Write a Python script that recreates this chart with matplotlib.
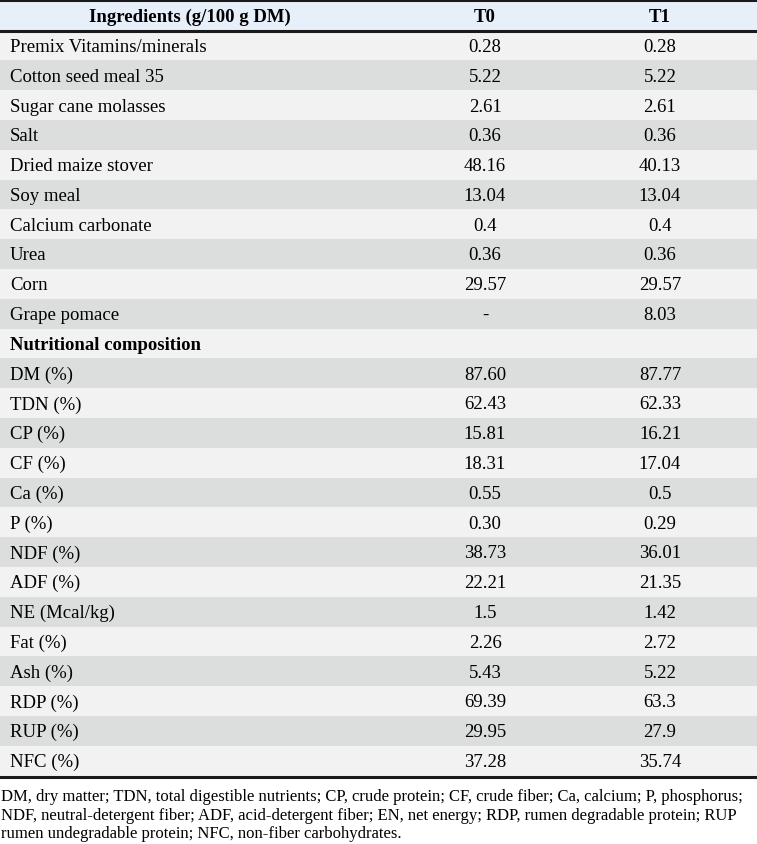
import matplotlib.pyplot as plt
from matplotlib.patches import Rectangle

plt.rcParams['font.family'] = ['Liberation Serif', 'DejaVu Serif']

# Table content
headers = ['Ingredients (g/100 g DM)', 'T0', 'T1']
row_labels = ['Premix Vitamins/minerals', 'Cotton seed meal 35', 'Sugar cane molasses',
              'Salt', 'Dried maize stover', 'Soy meal', 'Calcium carbonate', 'Urea',
              'Corn', 'Grape pomace', 'Nutritional composition',
              'DM (%)', 'TDN (%)', 'CP (%)', 'CF (%)', 'Ca (%)', 'P (%)', 'NDF (%)',
              'ADF (%)', 'NE (Mcal/kg)', 'Fat (%)', 'Ash (%)', 'RDP (%)', 'RUP (%)',
              'NFC (%)']
t0_values = ['0.28', '5.22', '2.61', '0.36', '48.16', '13.04', '0.4', '0.36', '29.57', '-', '',
             '87.60', '62.43', '15.81', '18.31', '0.55', '0.30', '38.73', '22.21', '1.5',
             '2.26', '5.43', '69.39', '29.95', '37.28']
t1_values = ['0.28', '5.22', '2.61', '0.36', '40.13', '13.04', '0.4', '0.36', '29.57', '8.03', '',
             '87.77', '62.33', '16.21', '17.04', '0.5', '0.29', '36.01', '21.35', '1.42',
             '2.72', '5.22', '63.3', '27.9', '35.74']
bold_rows = ['Nutritional composition']
footnote = ('DM, dry matter; TDN, total digestible nutrients; CP, crude protein; CF, crude fiber; Ca, calcium; P, phosphorus;\n'
            'NDF, neutral-detergent fiber; ADF, acid-detergent fiber; EN, net energy; RDP, rumen degradable protein; RUP\n'
            'rumen undegradable protein; NFC, non-fiber carbohydrates.')

W, H = 757, 845
fig = plt.figure(figsize=(W / 100, H / 100), dpi=100)
ax = fig.add_axes([0, 0, 1, 1])
ax.set_xlim(0, W)
ax.set_ylim(H, 0)
ax.axis('off')

top = 31.5
row_h = 29.8
col_x = [10, 485, 660]
fs = 13.5

# header
ax.add_patch(Rectangle((0, 1), W, top - 1, color='#e7f0fa', lw=0))
ax.text(190, 17, headers[0], ha='center', va='center', fontsize=fs, fontweight='bold')
ax.text(col_x[1], 17, headers[1], ha='center', va='center', fontsize=fs, fontweight='bold')
ax.text(col_x[2], 17, headers[2], ha='center', va='center', fontsize=fs, fontweight='bold')

for i, (lab, a, b) in enumerate(zip(row_labels, t0_values, t1_values)):
    y0 = top + i * row_h
    ax.add_patch(Rectangle((0, y0), W, row_h, color='#f2f2f2' if i % 2 == 0 else '#dcdddd', lw=0))
    yc = y0 + row_h / 2 + 1
    ax.text(col_x[0], yc, lab, ha='left', va='center', fontsize=fs,
            fontweight='bold' if lab in bold_rows else 'normal')
    ax.text(col_x[1], yc, a, ha='center', va='center', fontsize=fs)
    ax.text(col_x[2], yc, b, ha='center', va='center', fontsize=fs)

bottom = top + len(row_labels) * row_h
ax.plot([0, W], [1, 1], color='#1a1a1a', lw=2.2)
ax.plot([0, W], [top, top], color='#1a1a1a', lw=2.2)
ax.plot([0, W], [bottom + 1, bottom + 1], color='#1a1a1a', lw=2.2)

ax.text(1, bottom + 13, footnote, ha='left', va='top', fontsize=12, linespacing=1.2)

fig.savefig('out.png', dpi=100)
